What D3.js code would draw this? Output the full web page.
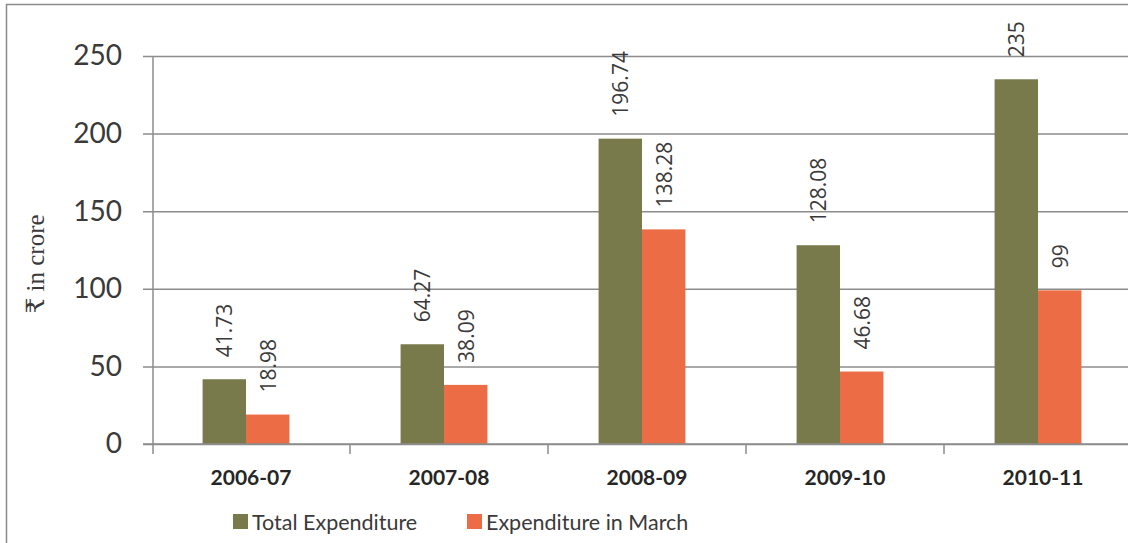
<!DOCTYPE html>
<html>
<head>
<meta charset="utf-8">
<script src="https://cdn.jsdelivr.net/npm/d3@7"></script>
<style>
  html, body { margin: 0; padding: 0; background: #fff; }
  svg { display: block; }
</style>
</head>
<body>
<svg id="chart" width="1128" height="543"></svg>
<script>
// Expenditure by year, ₹ in crore
const years = ["2006-07", "2007-08", "2008-09", "2009-10", "2010-11"];
const seriesNames = ["Total Expenditure", "Expenditure in March"];
const totalExpenditure = [41.73, 64.27, 196.74, 128.08, 235];
const marchExpenditure = [18.98, 38.09, 138.28, 46.68, 99];
const valueLabels = [
  ["41.73", "64.27", "196.74", "128.08", "235"],
  ["18.98", "38.09", "138.28", "46.68", "99"]
];
const yTicks = [0, 50, 100, 150, 200, 250];
const colors = ["#787a4c", "#ec6c45"];

const svg = d3.select("#chart");
const W = 1128, H = 543;
const axisX = 153;

// outer frame
svg.append("rect")
  .attr("x", 6.5).attr("y", 4.5)
  .attr("width", 1300).attr("height", 700)
  .attr("fill", "none").attr("stroke", "#8a8a8a").attr("stroke-width", 1.5);

const y = d3.scaleLinear().domain([0, 250]).range([444, 56]);
const x0 = d3.scaleBand().domain(years).range([150, 1140]).padding(0);
const x1 = d3.scaleBand().domain(seriesNames).range([0, x0.bandwidth()])
  .paddingInner(0).paddingOuter(1.28);

// gridlines + y ticks
const yAxis = d3.axisLeft(y).tickValues(yTicks).tickSize(-(W - axisX + 10)).tickPadding(31);
const gy = svg.append("g").attr("transform", `translate(${axisX},0)`).call(yAxis);
gy.select(".domain").remove();
gy.selectAll(".tick line")
  .attr("x1", -10).attr("x2", W - axisX)
  .attr("stroke", "#8c8c8c").attr("stroke-width", 1.5);
gy.selectAll(".tick text")
  .attr("font-family", "Lato, 'Open Sans', sans-serif")
  .attr("font-size", 28).attr("fill", "#3a3a3a");

// y axis line
svg.append("line")
  .attr("x1", axisX).attr("x2", axisX)
  .attr("y1", y(250)).attr("y2", y(0) + 10)
  .attr("stroke", "#8c8c8c").attr("stroke-width", 1.5);

// x axis category boundary ticks
const bounds = years.map(d => x0(d) + x0.bandwidth()).slice(0, -1);
svg.append("g").selectAll("line").data(bounds).join("line")
  .attr("x1", d => d + 2).attr("x2", d => d + 2)
  .attr("y1", y(0)).attr("y2", y(0) + 10)
  .attr("stroke", "#8c8c8c").attr("stroke-width", 1.5);

// bars
const seriesData = [totalExpenditure, marchExpenditure];
const groups = svg.append("g").selectAll("g").data(years).join("g")
  .attr("transform", d => `translate(${x0(d) - 3},0)`);

groups.selectAll("rect")
  .data((d, i) => seriesNames.map((s, k) => ({ s, k, v: seriesData[k][i], label: valueLabels[k][i] })))
  .join("rect")
  .attr("x", d => x1(d.s))
  .attr("y", d => y(d.v))
  .attr("width", x1.bandwidth())
  .attr("height", d => y(0) - y(d.v))
  .attr("fill", d => colors[d.k]);

// value labels, rotated
groups.selectAll("text.val")
  .data((d, i) => seriesNames.map((s, k) => ({ s, k, v: seriesData[k][i], label: valueLabels[k][i] })))
  .join("text")
  .attr("class", "val")
  .attr("transform", d => `translate(${x1(d.s) + x1.bandwidth() / 2 + 8},${y(d.v) - 22}) rotate(-90)`)
  .attr("text-anchor", "start")
  .attr("font-family", "'Open Sans', sans-serif")
  .attr("font-size", 21)
  .attr("fill", "#3a3a3a")
  .text(d => d.label);

// x axis line
svg.append("line")
  .attr("x1", axisX - 10).attr("x2", W)
  .attr("y1", y(0)).attr("y2", y(0))
  .attr("stroke", "#8c8c8c").attr("stroke-width", 1.5);

// category labels
svg.append("g").selectAll("text").data(years).join("text")
  .attr("x", d => x0(d) + x0.bandwidth() / 2 + 2)
  .attr("y", 485)
  .attr("text-anchor", "middle")
  .attr("font-family", "Lato, sans-serif")
  .attr("font-weight", 700)
  .attr("font-size", 21)
  .attr("fill", "#262626")
  .text(d => d);

// y axis title
svg.append("text")
  .attr("transform", "translate(44,264) rotate(-90)")
  .attr("text-anchor", "middle")
  .attr("font-family", "'Liberation Serif', 'DejaVu Serif', serif")
  .attr("font-size", 25)
  .attr("fill", "#3a3a3a")
  .text("₹ in crore");

// legend
const legendX = [233, 467];
const legend = svg.append("g").selectAll("g").data(seriesNames).join("g")
  .attr("transform", (d, i) => `translate(${legendX[i]},514)`);
legend.append("rect")
  .attr("width", 15).attr("height", 15)
  .attr("fill", (d, i) => colors[i]);
legend.append("text")
  .attr("x", 19).attr("y", 16)
  .attr("font-family", "Lato, 'Open Sans', sans-serif")
  .attr("font-size", 21.5)
  .attr("fill", "#3a3a3a")
  .text(d => d);
</script>
</body>
</html>
